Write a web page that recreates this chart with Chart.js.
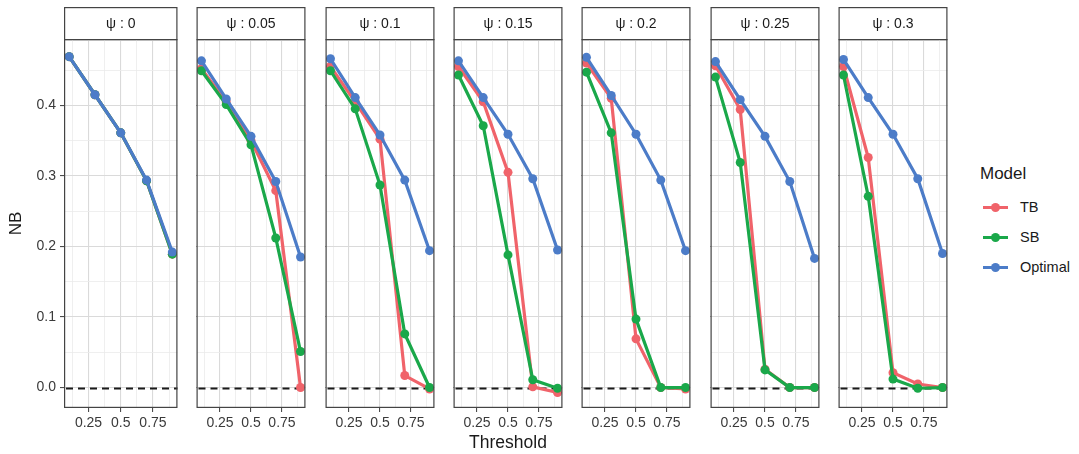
<!DOCTYPE html>
<html>
<head>
<meta charset="utf-8">
<script src="https://cdn.jsdelivr.net/npm/chart.js@4.4.0/dist/chart.umd.min.js"></script>
<style>
	body { margin: 0; background: #fff; }
	#wrap { position: relative; width: 1079px; height: 454px; font-family: "Liberation Sans", Arial, sans-serif; }
	#wrap canvas { position: absolute; top: 0; }
	.legend { position: absolute; left: 980px; top: 164px; color: #1a1a1a; }
	.legend .ttl { font-size: 17px; margin-bottom: 8px; }
	.legend .item { position: relative; height: 30px; font-size: 14.5px; line-height: 30px; padding-left: 40px; }
	.legend .key { position: absolute; left: 3px; top: 14px; width: 25px; height: 3px; }
	.legend .dot { position: absolute; left: 8px; top: -3px; width: 9px; height: 9px; border-radius: 50%; }
</style>
</head>
<body>
<div id="wrap"></div>
<script>
var psi = ["0", "0.05", "0.1", "0.15", "0.2", "0.25", "0.3"];
var thresholds = [0.1, 0.3, 0.5, 0.7, 0.9];
var models = ["TB", "SB", "Optimal"];
var colors = ["#f0636a", "#1aa84a", "#4c7cc8"];

// NB values per panel (one row per psi)
var tb = [
	[0.469, 0.415, 0.361, 0.293, 0.189],
	[0.452, 0.405, 0.350, 0.279, 0.000],
	[0.455, 0.405, 0.352, 0.017, -0.002],
	[0.455, 0.405, 0.305, 0.001, -0.007],
	[0.460, 0.410, 0.069, 0.000, -0.002],
	[0.456, 0.394, 0.026, 0.000, 0.000],
	[0.455, 0.326, 0.021, 0.005, 0.000]
];
var sb = [
	[0.469, 0.415, 0.361, 0.293, 0.189],
	[0.449, 0.401, 0.344, 0.212, 0.051],
	[0.449, 0.395, 0.287, 0.076, 0.000],
	[0.443, 0.371, 0.188, 0.011, -0.001],
	[0.447, 0.361, 0.097, 0.000, 0.000],
	[0.440, 0.319, 0.025, 0.000, 0.000],
	[0.443, 0.271, 0.012, -0.001, 0.000]
];
var optimal = [
	[0.469, 0.415, 0.361, 0.294, 0.192],
	[0.463, 0.409, 0.356, 0.292, 0.185],
	[0.466, 0.411, 0.358, 0.294, 0.194],
	[0.463, 0.411, 0.359, 0.296, 0.195],
	[0.468, 0.414, 0.359, 0.294, 0.194],
	[0.462, 0.408, 0.356, 0.292, 0.183],
	[0.465, 0.411, 0.359, 0.296, 0.190]
];
var xTicks = [0.25, 0.5, 0.75];
var xTickLabels = ["0.25", "0.5", "0.75"];
var yTicks = [0, 0.1, 0.2, 0.3, 0.4];
var yTickLabels = ["0.0", "0.1", "0.2", "0.3", "0.4"];

var panelLeft = 64, panelStep = 128.3, panelW = 118;
var plotTop = 39, stripH = 32, axisH = 46, yAxisW = 64;
var font = '"Liberation Sans", Arial, sans-serif';

// minor breaks halfway between the majors, as ggplot does
function withMinor(major, lo, hi){
	var step = major[1] - major[0], out = [];
	for(var v = major[0] - step; v <= major[major.length-1] + step + 1e-9; v += step / 2){
		var r = Math.round(v * 1000) / 1000;
		if(r > lo && r < hi) out.push(r);
	}
	return out;
}
function isMajor(list, v){
	return list.some(function(m){ return Math.abs(m - v) < 1e-6; });
}

var facetPlugin = {
	id: 'facet',
	beforeDraw: function(chart, args, opts){
		var c = chart.ctx, a = chart.chartArea;
		c.save();
		c.fillStyle = '#fff';
		c.fillRect(a.left, a.top - stripH, a.right - a.left, stripH);
		c.strokeStyle = '#444';
		c.lineWidth = 1.2;
		c.strokeRect(a.left + 0.6, a.top - stripH + 0.6, a.right - a.left - 1.2, stripH);
		c.fillStyle = '#1a1a1a';
		c.font = '14px ' + font;
		c.textAlign = 'center';
		c.textBaseline = 'middle';
		c.fillText(opts.label, (a.left + a.right) / 2, a.top - stripH / 2 + 1);
		c.restore();
	},
	beforeDatasetsDraw: function(chart){
		var c = chart.ctx, a = chart.chartArea;
		var y0 = Math.round(chart.scales.y.getPixelForValue(0)) + 0.5;
		c.save();
		c.strokeStyle = '#1a1a1a';
		c.lineWidth = 2;
		c.setLineDash([7, 5]);
		c.beginPath();
		c.moveTo(a.left + 2, y0);
		c.lineTo(a.right, y0);
		c.stroke();
		c.restore();
	},
	afterDraw: function(chart){
		var c = chart.ctx, a = chart.chartArea;
		c.save();
		c.strokeStyle = '#444';
		c.lineWidth = 1.2;
		c.strokeRect(a.left + 0.6, a.top + 0.6, a.right - a.left - 1.2, a.bottom - a.top - 1.2);
		c.restore();
	}
};

var wrap = document.getElementById('wrap');
var seriesList = [tb, sb, optimal];
var xAll = withMinor(xTicks, 0.06, 0.94);
var yAll = withMinor(yTicks, -0.029, 0.494);

psi.forEach(function(p, i){
	var first = (i == 0);
	var left = Math.round(panelLeft + i * panelStep);
	var cvLeft = first ? 0 : left;
	var cvW = first ? left + panelW : panelW;

	var cv = document.createElement('canvas');
	cv.style.left = cvLeft + 'px';
	cv.style.width = cvW + 'px';
	cv.style.height = '454px';
	cv.width = cvW;
	cv.height = 454;
	wrap.appendChild(cv);

	var datasets = [];
	seriesList.forEach(function(s, k){
		datasets.push({
			label: models[k],
			data: thresholds.map(function(t, j){ return {x: t, y: s[i][j]}; }),
			borderColor: colors[k],
			backgroundColor: colors[k],
			borderWidth: 3.2,
			pointRadius: 4.5,
			pointBorderWidth: 0,
			order: 2 - k
		});
	});

	new Chart(cv, {
		type: 'line',
		data: { datasets: datasets },
		plugins: [facetPlugin],
		options: {
			responsive: false,
			animation: false,
			events: [],
			layout: { padding: { top: plotTop, left: 0, right: 0, bottom: 0 } },
			plugins: {
				legend: { display: false },
				tooltip: { enabled: false },
				facet: { label: 'ψ : ' + p }
			},
			scales: {
				x: {
					type: 'linear',
					min: 0.06,
					max: 0.94,
					afterBuildTicks: function(sc){ sc.ticks = xAll.map(function(v){ return {value: v}; }); },
					afterFit: function(sc){ sc.height = axisH; },
					border: { display: false },
					grid: {
						color: function(ctx){ return isMajor(xTicks, ctx.tick.value) ? '#dadada' : '#ebebeb'; },
						lineWidth: function(ctx){ return isMajor(xTicks, ctx.tick.value) ? 1.1 : 0.8; },
						tickLength: 4,
						tickColor: function(ctx){ return isMajor(xTicks, ctx.tick.value) ? '#4d4d4d' : 'rgba(0,0,0,0)'; }
					},
					ticks: {
						autoSkip: false,
						maxRotation: 0,
						padding: 3,
						color: '#3a3a3a',
						font: { family: font, size: 14 },
						callback: function(v){
							var idx = xTicks.findIndex(function(m){ return Math.abs(m - v) < 1e-6; });
							return idx >= 0 ? xTickLabels[idx] : '';
						}
					},
					title: {
						display: i == 3,
						text: 'Threshold',
						color: '#1a1a1a',
						font: { family: font, size: 17.5 },
						padding: { top: 0, bottom: 0 }
					}
				},
				y: {
					min: -0.029,
					max: 0.494,
					afterBuildTicks: function(sc){ sc.ticks = yAll.map(function(v){ return {value: v}; }); },
					afterFit: function(sc){ sc.width = first ? yAxisW : 0; },
					border: { display: false },
					grid: {
						color: function(ctx){ return isMajor(yTicks, ctx.tick.value) ? '#dadada' : '#ebebeb'; },
						lineWidth: function(ctx){ return isMajor(yTicks, ctx.tick.value) ? 1.1 : 0.8; },
						tickLength: first ? 4 : 0,
						tickColor: function(ctx){ return isMajor(yTicks, ctx.tick.value) ? '#4d4d4d' : 'rgba(0,0,0,0)'; }
					},
					ticks: {
						display: first,
						autoSkip: false,
						padding: 4,
						color: '#3a3a3a',
						font: { family: font, size: 14 },
						callback: function(v){
							var idx = yTicks.findIndex(function(m){ return Math.abs(m - v) < 1e-6; });
							return idx >= 0 ? yTickLabels[idx] : '';
						}
					},
					title: {
						display: first,
						text: 'NB',
						color: '#1a1a1a',
						font: { family: font, size: 17 },
						padding: { top: 6, bottom: 0 }
					}
				}
			}
		}
	});
});

// legend
var lg = document.createElement('div');
lg.className = 'legend';
var html = '<div class="ttl">Model</div>';
models.forEach(function(m, k){
	html += '<div class="item"><span class="key" style="background:' + colors[k] + '"><span class="dot" style="background:' + colors[k] + '"></span></span>' + m + '</div>';
});
lg.innerHTML = html;
wrap.appendChild(lg);
</script>
</body>
</html>
